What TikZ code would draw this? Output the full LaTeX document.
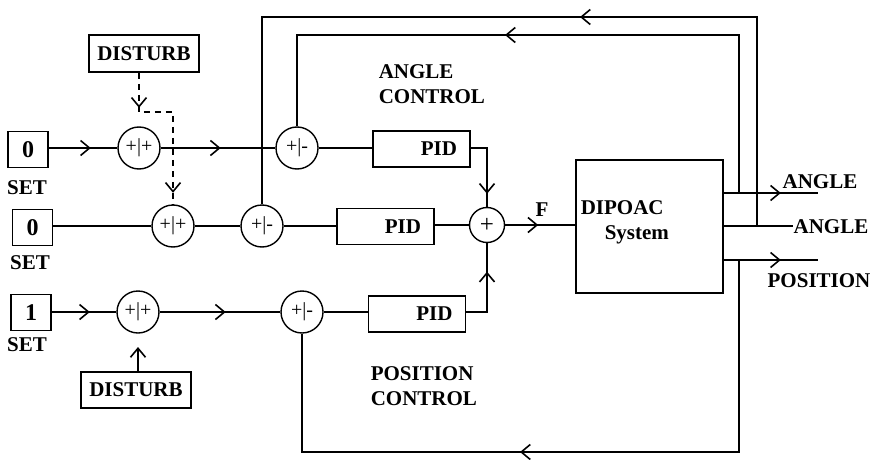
\documentclass[tikz,border=0pt]{standalone}
\usepackage{fontspec}
\setmainfont{Liberation Serif}
\usetikzlibrary{arrows.meta,decorations.markings}
\tikzset{
  blk/.style={draw, rectangle, line width=1.6pt, inner sep=0pt, font=\bfseries\fontsize{21}{21}\selectfont},
  setbox/.style={blk, minimum width=40pt, minimum height=36pt, font=\bfseries\fontsize{24}{24}\selectfont},
  pidbox/.style={draw, rectangle, line width=1.6pt, minimum width=97pt, minimum height=36pt, text width=71pt, align=right, inner xsep=13pt, inner ysep=0pt, font=\bfseries\fontsize{21}{21}\selectfont},
  sumc/.style={draw, circle, line width=1.4pt, minimum size=42pt, inner sep=0pt, font=\fontsize{20}{20}\selectfont},
  lbl/.style={font=\bfseries\fontsize{21}{25}\selectfont, inner sep=0pt},
  chev/.style={postaction=decorate, decoration={markings, mark=at position #1 with {\arrow{Straight Barb[length=9pt,width=15pt]}}}},
}
\begin{document}
\begin{tikzpicture}[x=1pt,y=-1pt,line width=1.6pt]
\useasboundingbox (0,0) rectangle (880,460);
% ---- nodes
\node[blk, minimum width=110pt, minimum height=37pt] (d1) at (144,53.5) {DISTURB};
\node[setbox] (set1) at (28,149.5) {0};
\node[lbl] (sl1) at (27,188) {SET};
\node[sumc] (s1a) at (139,148) {+|+};
\node[sumc] (s1b) at (297,148) {+|-};
\node[pidbox] (p1) at (421.5,149) {PID};
\node[lbl, align=left, anchor=north west] (actl) at (378,64) {ANGLE\\CONTROL};

\node[setbox] (set2) at (32.5,227.5) {0};
\node[lbl] (sl2) at (30,263) {SET};
\node[sumc] (s2a) at (173,226) {+|+};
\node[sumc] (s2b) at (262,226) {+|-};
\node[pidbox] (p2) at (385.5,226.5) {PID};
\node[sumc, minimum size=35pt, font=\fontsize{25}{25}\selectfont] (sf) at (487,225) {+};
\node[lbl] (flbl) at (542,210) {F};
\node[draw, rectangle, line width=1.6pt, minimum width=147pt, minimum height=133pt] (sys) at (649.5,226.5) {};
\node[lbl, align=left, anchor=west] (systxt) at (580,222) {DIPOAC\\\hspace*{24pt}System};

\node[setbox] (set3) at (31,312.5) {1};
\node[lbl] (sl3) at (27,345) {SET};
\node[sumc] (s3a) at (138,312) {+|+};
\node[sumc] (s3b) at (302,312) {+|-};
\node[pidbox] (p3) at (417,314) {PID};
\node[blk, minimum width=110pt, minimum height=36pt] (d2) at (136,390) {DISTURB};
\node[lbl, align=left, anchor=north west] (pctl) at (370,366) {POSITION\\CONTROL};

% outputs
\coordinate (o1) at (818,193);
\coordinate (o2) at (793,226);
\coordinate (o3) at (818,260);
\node[lbl] (ang1) at (820,182) {ANGLE};
\node[lbl] (ang2) at (831,227) {ANGLE};
\node[lbl] (pos) at (819,281) {POSITION};
\coordinate (j1) at (739,193);
\coordinate (j2) at (757,226);
\coordinate (j3) at (739,260);
\coordinate (tp1) at (297,35);
\coordinate (tp2) at (262,17);
\coordinate (bt3) at (302,452);
\coordinate (dj) at (139,112);
\coordinate (d2tip) at (138,347);

% ---- connectors
\draw[chev=42pt] (set1.east |- s1a) -- (s1a.west);
\draw[chev=60pt] (s1a.east) -- (s1b.west);
\draw (s1b.east) -- (s1b.east -| p1.west);
\draw[chev=62pt] (p1.east |- s1b) -| (sf.north);

\draw (set2.east |- s2a) -- (s2a.west);
\draw (s2a.east) -- (s2b.west);
\draw (s2b.east) -- (p2.west |- s2b);
\draw (p2.east |- sf) -- (sf.west);
\draw[chev=33pt] (sf.east) -- (sys.west |- sf);

\draw[chev=38pt] (set3.east |- s3a) -- (s3a.west);
\draw[chev=66pt] (s3a.east) -- (s3b.west);
\draw (s3b.east) -- (p3.west |- s3b);
\draw[chev=61pt] (p3.east |- s3b) -| (sf.south);

% disturbances
\draw[dash pattern=on 6pt off 5pt, postaction=decorate,
  decoration={markings,
    mark=at position 35pt with {\arrow{Straight Barb[length=9pt,width=15pt]}},
    mark=at position 154pt with {\arrow{Straight Barb[length=9pt,width=15pt]}}}]
  (dj |- d1.south) -- (dj) -| (s2a.north);
\draw[-{Straight Barb[length=9pt,width=15pt]}] (d2tip |- d2.north) -- (d2tip);

% system outputs
\draw[chev=57pt] (sys.east |- o1) -- (o1);
\draw (sys.east |- o2) -- (o2);
\draw[chev=57pt] (sys.east |- o3) -- (o3);

% feedback
\draw[chev=392pt] (j1) |- (tp1) -- (s1b.north);
\draw[chev=386pt] (j2) |- (tp2) -- (s2b.north);
\draw[chev=411pt] (j3) |- (bt3) -- (s3b.south);
\end{tikzpicture}
\end{document}
